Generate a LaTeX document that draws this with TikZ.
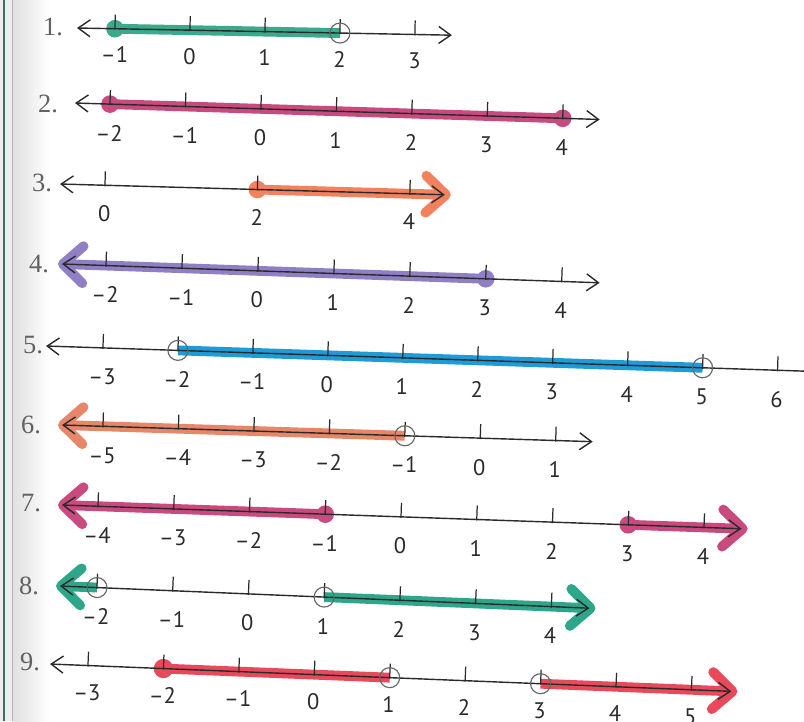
\documentclass[tikz,border=0pt]{standalone}
\usepackage{fontspec}
\usetikzlibrary{arrows.meta}
\newfontfamily\axisfont{PT Sans}
\newfontfamily\qfont{Liberation Serif}
\definecolor{inkgray}{HTML}{2A2A2A}
\definecolor{bindgreen}{HTML}{3E6E62}
\definecolor{hlteal}{HTML}{3BA98C}
\definecolor{hlpink}{HTML}{C94A7E}
\definecolor{hlorange}{HTML}{F2825E}
\definecolor{hlpurple}{HTML}{8F80C6}
\definecolor{hlblue}{HTML}{1F9CD8}
\definecolor{hlsalmon}{HTML}{E7876A}
\definecolor{hlgreen}{HTML}{2EA68A}
\definecolor{hlred}{HTML}{E84A5C}
\tikzset{
  >={Straight Barb[length=2.4mm, width=3.4mm]},
  axis/.style={line width=0.8pt, color=inkgray},
  tick/.style={line width=0.7pt, color=inkgray},
  hl/.style={line width=5.6pt, color=#1},
  hlleft/.style={{Straight Barb[length=4mm, width=7.4mm, round]}-},
  hlright/.style={-{Straight Barb[length=4mm, width=7.4mm, round]}},
  hole/.style={line width=0.65pt, color=black!60},
  lab/.style={font=\axisfont\fontsize{12.8}{13}\selectfont, text=inkgray},
  qlab/.style={font=\qfont\fontsize{15}{16}\selectfont, text=black!62}
}

\begin{document}
\begin{tikzpicture}[x=0.02cm, y=-0.02cm]
\useasboundingbox (0,0) rectangle (804,721);
\clip (0,0) rectangle (804,721);
% book edge
\fill[black!7] (0,0) rectangle (13,721);
\shade[left color=black!12, right color=white] (13,0) rectangle (50,721);
\fill[bindgreen] (2.5,0) rectangle (5,721);
\draw[black!30, line width=0.5pt] (12,0) -- (12,721);

\node[qlab] (q1) at (53,27) {1.};
\node[qlab] (q2) at (48,104) {2.};
\node[qlab] (q3) at (42,183) {3.};
\node[qlab] (q4) at (39,264) {4.};
\node[qlab] (q5) at (33,345) {5.};
\node[qlab] (q6) at (31,425) {6.};
\node[qlab] (q7) at (31,503) {7.};
\node[qlab] (q8) at (29,586) {8.};
\node[qlab] (q9) at (30,662) {9.};

% 1
\begin{scope}[shift={(77,28)}, rotate=-1.1]
  \foreach \i in {0,...,4} \coordinate (p1-\i) at (38+75*\i,0);
  \coordinate (l1) at (0,0);
  \coordinate (r1) at (375,0);
  \draw[hl=hlteal] (p1-0) -- (p1-3);
  \fill[hlteal] (p1-0) circle (5pt);
  \draw[axis, <->] (l1) -- (r1);
  \foreach \v [count=\i from 0] in {–1,0,1,2,3} {
    \draw[tick] (p1-\i) ++(0,1) -- ++(0,-15);
    \path (p1-\i) ++(0,26) node[lab] (n1-\i) {\v};
  }
  \draw[hole] (p1-3) circle (5.7pt);
\end{scope}

% 2
\begin{scope}[shift={(75,103)}, rotate=-1.8]
  \foreach \i in {0,...,6} \coordinate (p2-\i) at (35+75.5*\i,0);
  \coordinate (l2) at (0,0);
  \coordinate (r2) at (525,0);
  \draw[hl=hlpink] (p2-0) -- (p2-6);
  \fill[hlpink] (p2-0) circle (5pt) (p2-6) circle (5pt);
  \draw[axis, <->] (l2) -- (r2);
  \foreach \v [count=\i from 0] in {–2,–1,0,1,2,3,4} {
    \draw[tick] (p2-\i) ++(0,1) -- ++(0,-15);
    \path (p2-\i) ++(0,29) node[lab] (n2-\i) {\v};
  }
\end{scope}

% 3
\begin{scope}[shift={(60,184)}, rotate=-1.6]
  \foreach \i in {0,...,2} \coordinate (p3-\i) at (45+152.5*\i,0);
  \coordinate (l3) at (0,0);
  \coordinate (r3) at (385,0);
  \coordinate (e3) at (391,0);
  \draw[hl=hlorange, hlright] (p3-1) -- (e3);
  \fill[hlorange] (p3-1) circle (5pt);
  \draw[axis, <->] (l3) -- (r3);
  \foreach \v [count=\i from 0] in {0,2,4} {
    \draw[tick] (p3-\i) ++(0,1) -- ++(0,-15);
    \path (p3-\i) ++(0,28) node[lab] (n3-\i) {\v};
  }
\end{scope}

% 4
\begin{scope}[shift={(62,264)}, rotate=-2]
  \foreach \i in {0,...,6} \coordinate (p4-\i) at (44+76*\i,0);
  \coordinate (l4) at (0,0);
  \coordinate (r4) at (538,0);
  \coordinate (e4) at (-4,0);
  \draw[hl=hlpurple, hlleft] (e4) -- (p4-5);
  \fill[hlpurple] (p4-5) circle (5pt);
  \draw[axis, <->] (l4) -- (r4);
  \foreach \v [count=\i from 0] in {–2,–1,0,1,2,3,4} {
    \draw[tick] (p4-\i) ++(0,1) -- ++(0,-15);
    \path (p4-\i) ++(0,29) node[lab] (n4-\i) {\v};
  }
\end{scope}

% 5
\begin{scope}[shift={(46,346)}, rotate=-1.9]
  \foreach \i in {0,...,9} \coordinate (p5-\i) at (57+75*\i,0);
  \coordinate (l5) at (0,0);
  \coordinate (r5) at (800,0);
  \draw[hl=hlblue] (p5-1) -- (p5-8);
  \draw[axis, <-] (l5) -- (r5);
  \foreach \v [count=\i from 0] in {–3,–2,–1,0,1,2,3,4,5,6} {
    \draw[tick] (p5-\i) ++(0,1) -- ++(0,-15);
    \path (p5-\i) ++(0,29) node[lab] (n5-\i) {\v};
  }
  \draw[hole] (p5-1) circle (5.7pt) (p5-8) circle (5.7pt);
\end{scope}

% 6
\begin{scope}[shift={(62,425)}, rotate=-1.8]
  \foreach \i in {0,...,6} \coordinate (p6-\i) at (41+75.5*\i,0);
  \coordinate (l6) at (0,0);
  \coordinate (r6) at (531,0);
  \coordinate (e6) at (-4,0);
  \draw[hl=hlsalmon, hlleft] (e6) -- (p6-4);
  \draw[axis, <->] (l6) -- (r6);
  \foreach \v [count=\i from 0] in {–5,–4,–3,–2,–1,0,1} {
    \draw[tick] (p6-\i) ++(0,1) -- ++(0,-15);
    \path (p6-\i) ++(0,29) node[lab] (n6-\i) {\v};
  }
  \draw[hole] (p6-4) circle (5.7pt);
\end{scope}

% 7
\begin{scope}[shift={(62,505)}, rotate=-2]
  \foreach \i in {0,...,8} \coordinate (p7-\i) at (36+75.8*\i,0);
  \coordinate (l7) at (0,0);
  \coordinate (r7) at (680,0);
  \coordinate (e7) at (-4,0);
  \coordinate (f7) at (686,0);
  \draw[hl=hlpink, hlleft] (e7) -- (p7-3);
  \draw[hl=hlpink, hlright] (p7-7) -- (f7);
  \fill[hlpink] (p7-3) circle (5pt) (p7-7) circle (5pt);
  \draw[axis, <->] (l7) -- (r7);
  \foreach \v [count=\i from 0] in {–4,–3,–2,–1,0,1,2,3,4} {
    \draw[tick] (p7-\i) ++(0,1) -- ++(0,-15);
    \path (p7-\i) ++(0,29) node[lab] (n7-\i) {\v};
  }
\end{scope}

% 8
\begin{scope}[shift={(60,586)}, rotate=-2.4]
  \foreach \i in {0,...,6} \coordinate (p8-\i) at (37+75.8*\i,0);
  \coordinate (l8) at (0,0);
  \coordinate (r8) at (530,0);
  \coordinate (e8) at (-4,0);
  \coordinate (f8) at (536,0);
  \draw[hl=hlgreen, hlleft] (e8) -- (p8-0);
  \draw[hl=hlgreen, hlright] (p8-3) -- (f8);
  \draw[axis, <->] (l8) -- (r8);
  \foreach \v [count=\i from 0] in {–2,–1,0,1,2,3,4} {
    \draw[tick] (p8-\i) ++(0,1) -- ++(0,-15);
    \path (p8-\i) ++(0,29) node[lab] (n8-\i) {\v};
  }
  \draw[hole] (p8-0) circle (5.7pt) (p8-3) circle (5.7pt);
\end{scope}

% 9
\begin{scope}[shift={(50,664)}, rotate=-2.3]
  \foreach \i in {0,...,8} \coordinate (p9-\i) at (38+75.5*\i,0);
  \coordinate (l9) at (0,0);
  \coordinate (r9) at (682,0);
  \coordinate (f9) at (688,0);
  \draw[hl=hlred] (p9-1) -- (p9-4);
  \draw[hl=hlred, hlright] (p9-6) -- (f9);
  \fill[hlred] (p9-1) circle (5.5pt);
  \draw[axis, <->] (l9) -- (r9);
  \foreach \v [count=\i from 0] in {–3,–2,–1,0,1,2,3,4,5} {
    \draw[tick] (p9-\i) ++(0,1) -- ++(0,-15);
    \path (p9-\i) ++(0,27) node[lab] (n9-\i) {\v};
  }
  \draw[hole] (p9-4) circle (5.7pt) (p9-6) circle (5.7pt);
\end{scope}
\end{tikzpicture}
\end{document}
